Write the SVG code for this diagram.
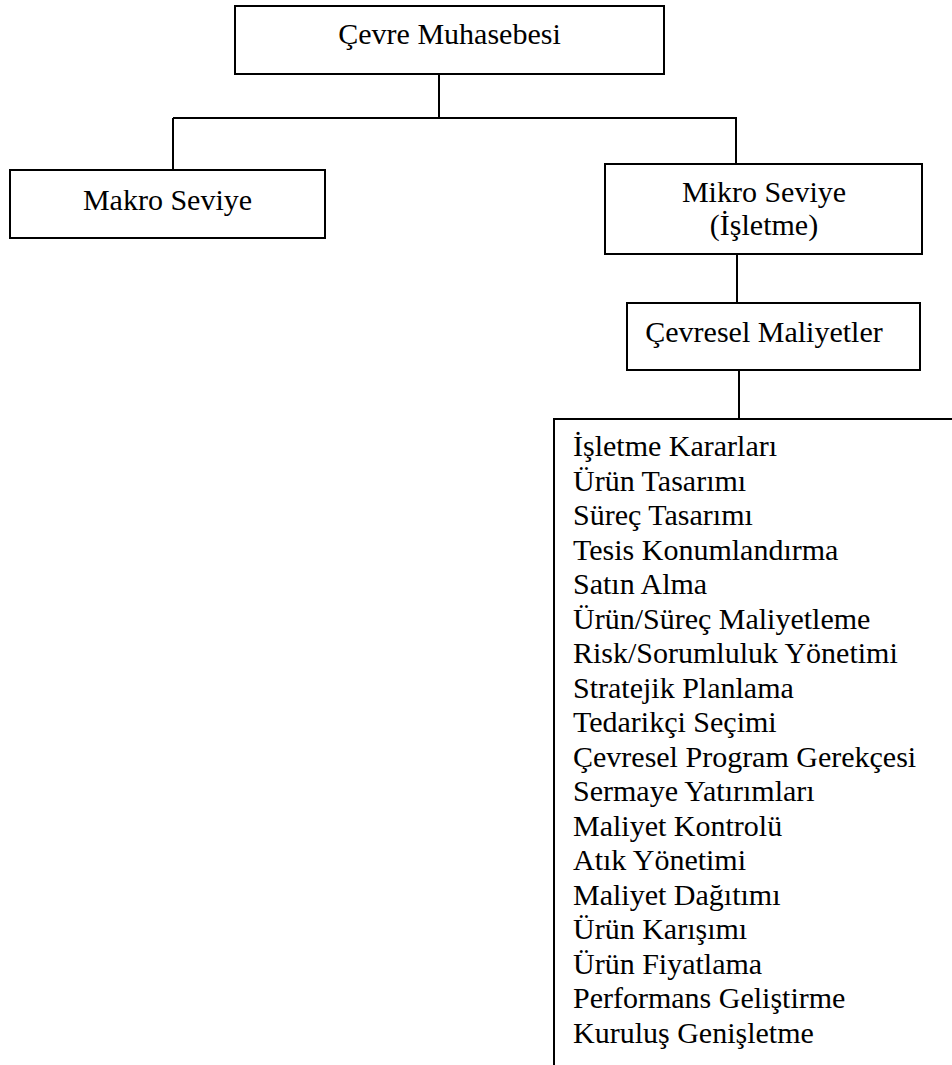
<svg xmlns="http://www.w3.org/2000/svg" width="952" height="1065" viewBox="0 0 952 1065">
  <style>
    .box { fill: #ffffff; stroke: #000000; stroke-width: 2; }
    .link { fill: none; stroke: #000000; stroke-width: 2; }
    .lbl { font-family: "Liberation Serif", "Times New Roman", serif; font-size: 30px; fill: #000000; }
    .mid { text-anchor: middle; }
  </style>
  <rect x="0" y="0" width="952" height="1065" fill="#ffffff"/>

  <!-- connectors -->
  <g id="connectors">
    <line class="link" x1="439" y1="74" x2="439" y2="118"/>
    <line class="link" x1="173" y1="118" x2="737" y2="118"/>
    <line class="link" x1="173" y1="118" x2="173" y2="170"/>
    <line class="link" x1="736" y1="118" x2="736" y2="164"/>
    <line class="link" x1="737" y1="254" x2="737" y2="303"/>
    <line class="link" x1="739" y1="370" x2="739" y2="419"/>
  </g>

  <g id="cevre-muhasebesi">
    <rect class="box" x="235" y="6" width="429" height="68"/>
    <text class="lbl mid" x="449.5" y="44">Çevre Muhasebesi</text>
  </g>

  <g id="makro-seviye">
    <rect class="box" x="10" y="170" width="315" height="68"/>
    <text class="lbl mid" x="167.5" y="210">Makro Seviye</text>
  </g>

  <g id="mikro-seviye">
    <rect class="box" x="605" y="164" width="317" height="90"/>
    <text class="lbl mid" x="764" y="202">Mikro Seviye</text>
    <text class="lbl mid" x="764" y="235">(İşletme)</text>
  </g>

  <g id="cevresel-maliyetler">
    <rect class="box" x="627" y="303" width="293" height="67"/>
    <text class="lbl mid" x="764" y="342">Çevresel Maliyetler</text>
  </g>

  <!-- open box running off the right and bottom edges -->
  <g id="isletme-kararlari">
    <path class="link" d="M554,1066 V419 H953"/>
    <g class="lbl">
      <text x="573" y="456">İşletme Kararları</text>
      <text x="573" y="490.5">Ürün Tasarımı</text>
      <text x="573" y="525">Süreç Tasarımı</text>
      <text x="573" y="559.5">Tesis Konumlandırma</text>
      <text x="573" y="594">Satın Alma</text>
      <text x="573" y="628.5">Ürün/Süreç Maliyetleme</text>
      <text x="573" y="663">Risk/Sorumluluk Yönetimi</text>
      <text x="573" y="697.5">Stratejik Planlama</text>
      <text x="573" y="732">Tedarikçi Seçimi</text>
      <text x="573" y="766.5">Çevresel Program Gerekçesi</text>
      <text x="573" y="801">Sermaye Yatırımları</text>
      <text x="573" y="835.5">Maliyet Kontrolü</text>
      <text x="573" y="870">Atık Yönetimi</text>
      <text x="573" y="904.5">Maliyet Dağıtımı</text>
      <text x="573" y="939">Ürün Karışımı</text>
      <text x="573" y="973.5">Ürün Fiyatlama</text>
      <text x="573" y="1008">Performans Geliştirme</text>
      <text x="573" y="1042.5">Kuruluş Genişletme</text>
    </g>
  </g>
</svg>
